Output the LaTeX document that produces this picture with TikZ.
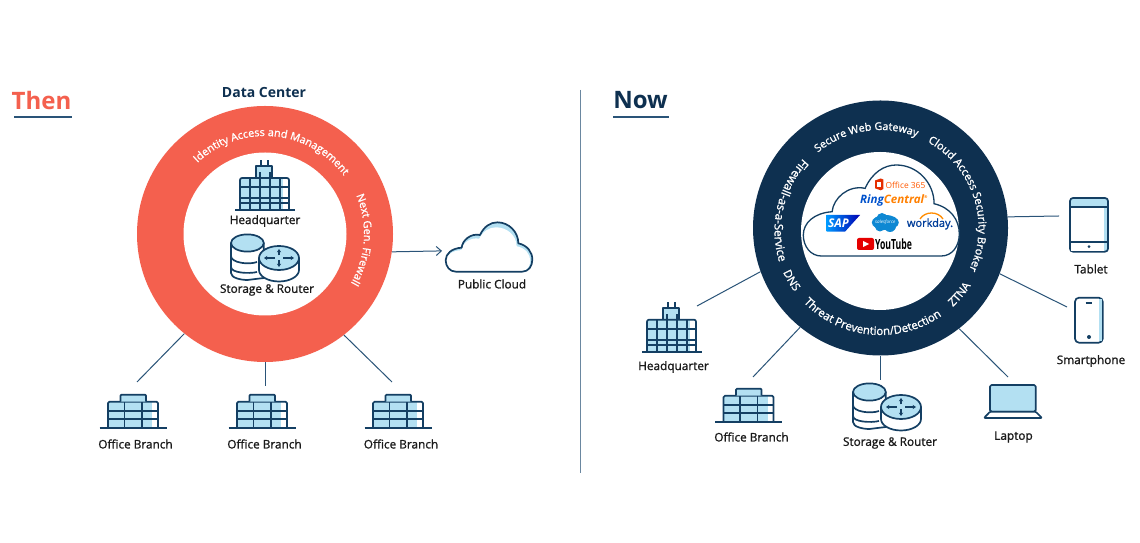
\documentclass[tikz,border=0pt]{standalone}
\usepackage{fontspec}
\setmainfont{Open Sans}
\newfontfamily\lblfont[FakeBold=1.2]{Open Sans}
\newfontfamily\ringfont[FakeBold=1.2]{Open Sans}
\usetikzlibrary{arrows.meta,decorations.text}
\definecolor{coral}{HTML}{F4604E}
\definecolor{navy}{HTML}{0E3050}
\definecolor{iconline}{HTML}{143F63}
\definecolor{sky}{HTML}{B3E0F2}
\definecolor{conn}{HTML}{2A5478}
\definecolor{lbl}{HTML}{1A1A1A}
\newcommand{\cloudshape}{(-100,-74)
  .. controls (-118,-74) and (-130,-58) .. (-130,-40)
  .. controls (-130,-20) and (-112,-4) .. (-82,-2)
  .. controls (-80,20) and (-55,42) .. (-27,36)
  .. controls (-15,62) and (5,74) .. (25,74)
  .. controls (60,74) and (88,45) .. (88,11)
  .. controls (115,5) and (130,-15) .. (130,-38)
  .. controls (130,-58) and (118,-74) .. (100,-74) -- cycle}
% centre x, centre y, radius, start angle, end angle, font size, text
\newcommand{\arctext}[7]{\path[decorate,decoration={text along path,text align=center,text color=white,text={|\ringfont\fontsize{#6}{12}\selectfont|#7}}]
  (#1,#2) ++(#4:#3) arc[start angle=#4,end angle=#5,radius=#3];}
\tikzset{
  icon/.style={draw=iconline,line width=1.7pt,line join=round},
  conn/.style={draw=conn,line width=1pt},
  label/.style={font=\lblfont\fontsize{11.8}{14}\selectfont,text=lbl,inner sep=0pt,anchor=center},
  officeicon/.pic={
    \fill[sky] (-25,0) rectangle (19,26);
    \draw[icon,rounded corners=1.5pt] (-25,0) -- (-25,26) -- (25,26) -- (25,0);
    \draw[icon,fill=sky,rounded corners=1pt] (-12.5,26) -- (-12.5,33) -- (13,33) -- (13,26);
    \draw[icon] (-8.5,0) -- (-8.5,26) (9,0) -- (9,26) (-25,9) -- (25,9) (-25,17) -- (25,17);
    \draw[icon] (-33.5,0) -- (33.5,0);
  },
  hqicon/.pic={
    \fill[sky] (-25,0) rectangle (18,32);
    \draw[icon,fill=sky] (-9,32) -- (-9,44) -- (7,44) -- (7,32);
    \draw[icon] (-4,44) -- (-4,50) (3,44) -- (3,50);
    \draw[icon,rounded corners=2pt] (-25,0) -- (-25,32) -- (24,32) -- (24,0);
    \draw[icon] (-15,0) -- (-15,32) (-5,0) -- (-5,38) (5,0) -- (5,38) (15,0) -- (15,32);
    \draw[icon] (-25,23) -- (24,23) (-25,12) -- (24,12) (-25,7) -- (24,7);
    \draw[icon] (-30,0) -- (30,0);
  },
  storageicon/.pic={
    \draw[icon,fill=white] (-48,15) -- (-48,-15) .. controls (-48,-20) and (-38,-22) .. (-31.5,-22) -- (-15.3,-20) -- (-15.3,15);
    \draw[icon] (-48,2) .. controls (-48,-5) and (-30,-7) .. (-22,-4);
    \draw[icon] (-48,-9) .. controls (-48,-15) and (-30,-16) .. (-22,-14);
    \draw[icon,fill=sky] (-31.6,15) ellipse[x radius=16.4,y radius=8.6];
    \draw[icon,fill=white] (-20,0) -- (-20,-12) arc[start angle=180,end angle=360,x radius=20,y radius=11.5] -- (20,0);
    \draw[icon,fill=sky] (0,0) ellipse[x radius=20,y radius=12];
    \draw[icon,line width=1.3pt,-{Stealth[length=3.4pt,width=4.4pt]}] (-4,0) -- (-15,0);
    \draw[icon,line width=1.3pt,-{Stealth[length=3.4pt,width=4.4pt]}] (4,0) -- (15,0);
    \draw[icon,line width=1.3pt,-{Stealth[length=3.4pt,width=4.4pt]}] (0,2.5) -- (0,9);
    \draw[icon,line width=1.3pt,-{Stealth[length=3.4pt,width=4.4pt]}] (0,-2.5) -- (0,-9);
  }
}
\begin{document}
\begin{tikzpicture}[x=1pt,y=1pt]
\useasboundingbox (0,0) rectangle (1140,543);
\fill[white] (0,0) rectangle (1140,543);
% divider
\draw[draw=conn!70,line width=0.8pt] (580.5,543-90) -- (580.5,543-473);
% headings
\node[font=\bfseries\fontsize{24}{28}\selectfont,text=coral,inner sep=0pt] (then) at (41.5,543-100.5) {Then};
\draw[draw=conn,line width=1.2pt] (14,543-117) -- (72,543-117);
\node[font=\bfseries\fontsize{24}{28}\selectfont,text=navy,inner sep=0pt] (now) at (640.5,543-100.5) {Now};
\draw[draw=conn,line width=1.2pt] (613,543-117) -- (669,543-117);
\node[font=\bfseries\fontsize{14}{16}\selectfont,text=navy,inner sep=0pt] (dc) at (264,543-93) {Data Center};
% left ring
\node[circle,fill=coral,minimum size=256pt,inner sep=0pt] (ringL) at (265,543-234) {};
\node[circle,fill=white,minimum size=163pt,inner sep=0pt] (holeL) at (265,543-234) {};
\arctext{265}{309}{98}{143}{27}{10.8}{Identity Access and Management}
\arctext{265}{309}{99}{32}{-39}{10.8}{Next Gen. Firewall}
\pic at (265,543-210) {hqicon};
\node[label] (hqL) at (265,543-221) {Headquarter};
\pic at (279,543-258) {storageicon};
\node[label] (stL) at (267,543-290) {Storage \& Router};
% left connectors
\coordinate (o1) at (137,543-382);
\coordinate (o2) at (265,543-386);
\coordinate (o3) at (392,543-382);
\coordinate (pc) at (442,543-250.9);
\draw[conn] (ringL.231.8) -- (o1);
\draw[conn] (ringL.270) -- (o2);
\draw[conn] (ringL.308) -- (o3);
\draw[conn,-{Straight Barb[length=5pt,width=9pt]}] (ringL.352.4) -- (pc);
% public cloud
\begin{scope}[shift={(489,543-247)},scale=0.3333]
  \fill[sky] \cloudshape;
\end{scope}
\begin{scope}[shift={(488,543-249.5)},xscale=0.325,yscale=0.3]
  \fill[white] \cloudshape;
\end{scope}
\begin{scope}[shift={(489,543-247)},scale=0.3333]
  \draw[icon] \cloudshape;
\end{scope}
\node[label] (pcl) at (492,543-284) {Public Cloud};
% office branches
\pic at (133,543-427.7) {officeicon};
\node[label] (b1) at (135.5,543-444) {Office Branch};
\pic at (262,543-427.7) {officeicon};
\node[label] (b2) at (264.5,543-444) {Office Branch};
\pic at (398,543-427.7) {officeicon};
\node[label] (b3) at (401,543-444) {Office Branch};
% right ring
\node[circle,fill=navy,minimum size=255pt,inner sep=0pt] (ringR) at (880.5,543-228) {};
\node[circle,fill=white,minimum size=158pt,inner sep=0pt] (holeR) at (880,543-231) {};
\arctext{880.5}{315}{98}{139}{59}{10.7}{Secure Web Gateway}
\arctext{880.5}{315}{98}{68}{-32}{11}{Cloud Access Security Broker}
\arctext{880.5}{315}{107}{-56}{-24}{11.2}{ZTNA}
\arctext{880.5}{315}{107}{214}{315}{11.4}{Threat Prevention/Detection}
\arctext{880.5}{315}{107}{196}{225}{11.2}{DNS}
\arctext{880.5}{312}{106}{130}{204}{11.8}{Firewall-as-a-Service}
% big cloud
\begin{scope}[shift={(881.3,543-210.5)},xscale=0.6,yscale=0.615]
  \draw[draw=iconline,line width=1.3pt,fill=white] \cloudshape;
\end{scope}
% logos
\fill[red!60!orange!90!black] (875,543-180.5) -- (880.7,543-178.5) -- (883.3,543-179.5) -- (883.3,543-189) -- (880.7,543-190.3) -- (875,543-188.3) -- cycle;
\fill[white] (877.3,543-182) rectangle (880.7,543-187);
\node[font=\fontsize{8.4}{10}\selectfont,text=orange!70!red,inner sep=0pt] (o365) at (905.5,543-185) {Office 365};
\node[font=\bfseries\itshape\fontsize{11.6}{14}\selectfont,inner sep=0pt] (rc) at (894,543-200) {\textcolor{blue!60!cyan!80!black}{Ring}\textcolor{orange}{Central}\textsuperscript{\fontsize{4}{4}\selectfont\textcolor{orange}{®}}};
\shade[left color=cyan!60!blue,right color=blue!70!black] (826.7,543-215) -- (860,543-215) -- (845,543-231.7) -- (826.7,543-231.7) -- cycle;
\node[font=\bfseries\itshape\fontsize{12}{12}\selectfont,text=white,inner sep=0pt] (sap) at (838.5,543-223) {SAP};
\fill[cyan!70!blue] (885.3,543-222.5) ellipse[x radius=13.5,y radius=7.5];
\fill[cyan!70!blue] (882,543-218.5) circle[radius=5.5];
\fill[cyan!70!blue] (890,543-226) circle[radius=6];
\fill[cyan!70!blue] (880,543-226.5) circle[radius=5];
\node[font=\itshape\fontsize{4.6}{5}\selectfont,text=white,inner sep=0pt] (sf) at (885.3,543-222.5) {salesforce};
\node[font=\lblfont\fontsize{11}{12}\selectfont,text=blue!60!cyan!60!black,inner sep=0pt] (wd) at (930,543-224) {workday.};
\draw[draw=orange!90!yellow,line width=1.3pt] (920,543-219) .. controls (925,543-211) and (938,543-211) .. (943,543-219);
\fill[red!90!black,rounded corners=2pt] (857,543-238) rectangle (874,543-250);
\fill[white] (863,543-241) -- (869,543-244) -- (863,543-247) -- cycle;
\node[font=\bfseries\fontsize{14}{14}\selectfont,text=black,inner sep=0pt,xscale=0.62] (yt) at (893.5,543-244) {YouTube};
% right connectors
\coordinate (c1) at (697,543-306);
\coordinate (c2) at (753,543-377);
\coordinate (c3) at (880.5,543-380);
\coordinate (c4) at (1008,543-377);
\coordinate (c5) at (1067,543-307);
\coordinate (c6) at (1059,543-216);
\draw[conn] (ringR.200.8) -- (c1);
\draw[conn] (ringR.231.9) -- (c2);
\draw[conn] (ringR.270) -- (c3);
\draw[conn] (ringR.308.5) -- (c4);
\draw[conn] (ringR.339.5) -- (c5);
\draw[conn] (ringR.5.4) -- (c6);
% right icons
\pic at (672,543-351.7) {hqicon};
\node[label] (hqR) at (673.5,543-367) {Headquarter};
\pic at (748.5,543-421.7) {officeicon};
\node[label] (bR) at (751.5,543-437) {Office Branch};
\pic at (901,543-407) {storageicon};
\node[label] (stR) at (890,543-443) {Storage \& Router};
% tablet
\draw[icon,fill=sky,rounded corners=3pt] (1070,543-198) rectangle (1108,543-251.7);
\fill[white] (1071,543-206.7) rectangle (1104,543-241.7);
\fill[white] (1071,543-241.7) rectangle (1104,543-250.8);
\draw[icon] (1070,543-206.7) -- (1108,543-206.7) (1070,543-241.7) -- (1108,543-241.7);
\fill[iconline] (1089,543-246.7) circle[radius=1.5];
\node[label] (tab) at (1091,543-269) {Tablet};
% smartphone
\draw[icon,fill=white,rounded corners=4pt] (1075,543-297.7) rectangle (1102.7,543-342.7);
\fill[sky] (1099,543-299) rectangle (1101.9,543-341);
\draw[icon,line width=1.1pt] (1085.7,543-303) -- (1092.3,543-303);
\fill[iconline] (1089,543-337) circle[radius=2];
\node[label] (sm) at (1091,543-361) {Smartphone};
% laptop
\draw[icon,fill=sky,rounded corners=1.5pt] (990,543-411.7) -- (990,543-385) -- (1035.7,543-385) -- (1035.7,543-411.7) -- cycle;
\draw[icon,fill=white,rounded corners=1pt] (990,543-411.7) -- (984,543-418) -- (1042,543-418) -- (1035.7,543-411.7) -- cycle;
\node[label] (lap) at (1013.5,543-437) {Laptop};
\end{tikzpicture}
\end{document}
